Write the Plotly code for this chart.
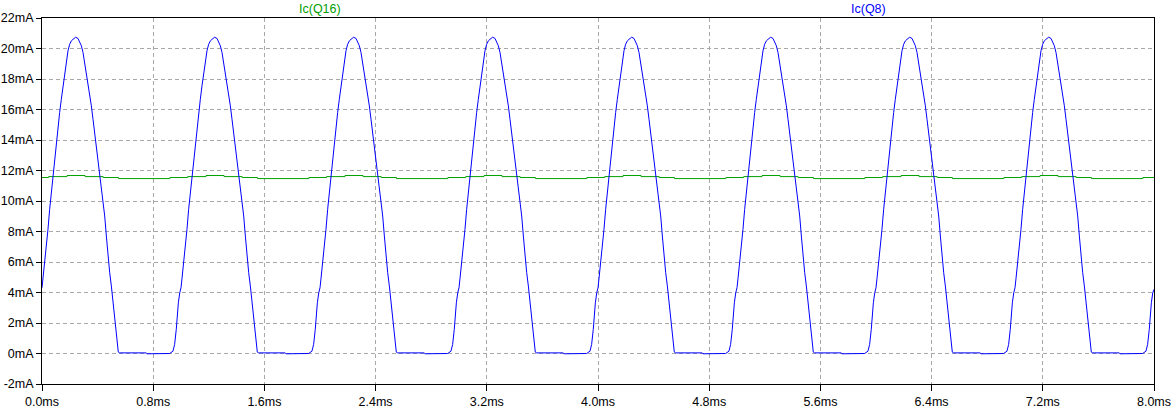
import plotly.graph_objects as go

# ---- data ----
# one measured cycle of Ic(Q8), time in ms within the cycle, current in mA
cycle_t_q8 = [0.000, 0.007, 0.019, 0.031, 0.043, 0.055, 0.067, 0.079, 0.091, 0.103,
              0.115, 0.127, 0.139, 0.151, 0.163, 0.175, 0.187, 0.199, 0.211, 0.223,
              0.242, 0.259, 0.271, 0.283, 0.295, 0.307, 0.319, 0.331, 0.343, 0.355,
              0.367, 0.379, 0.391, 0.403, 0.415, 0.427, 0.439, 0.451, 0.463, 0.475,
              0.487, 0.499, 0.511, 0.523, 0.535, 0.542, 0.549, 0.559, 0.750, 0.755,
              0.918, 0.942, 0.954, 0.966, 0.974, 0.981, 0.991]
cycle_ic_q8 = [4.31, 4.90, 5.84, 7.05, 8.14, 9.45, 10.55, 11.64, 12.52, 13.83,
               14.70, 15.80, 16.67, 17.55, 18.42, 19.19, 19.85, 20.28, 20.50, 20.60,
               20.74, 20.66, 20.44, 20.18, 19.74, 19.08, 18.42, 17.77, 16.89, 16.24,
               15.36, 14.49, 13.61, 12.74, 11.86, 10.77, 9.89, 9.02, 7.70, 6.39,
               5.30, 4.42, 3.33, 2.45, 1.58, 0.59, 0.09, 0.04, 0.04, -0.02,
               0.00, 0.15, 0.59, 1.58, 2.67, 3.33, 3.98]

# one measured cycle of Ic(Q16) (step-wise as drawn)
cycle_t_q16 = [0.000, 0.048, 0.180, 0.310, 0.440, 0.550, 0.920]
cycle_ic_q16 = [11.54, 11.60, 11.67, 11.60, 11.54, 11.47, 11.54]

cycle_starts_ms = [0, 1, 2, 3, 4, 5, 6, 7]
end_t = 8.0
end_ic_q8 = 4.2
end_ic_q16 = 11.53

x_tick_vals = [0.0, 0.8, 1.6, 2.4, 3.2, 4.0, 4.8, 5.6, 6.4, 7.2, 8.0]
x_tick_text = ["0.0ms", "0.8ms", "1.6ms", "2.4ms", "3.2ms", "4.0ms",
               "4.8ms", "5.6ms", "6.4ms", "7.2ms", "8.0ms"]
y_tick_vals = [-2, 0, 2, 4, 6, 8, 10, 12, 14, 16, 18, 20, 22]
y_tick_text = ["-2mA", "0mA", "2mA", "4mA", "6mA", "8mA", "10mA", "12mA",
               "14mA", "16mA", "18mA", "20mA", "22mA"]

# ---- assemble the periodic series from the measured cycles ----
t_q8, i_q8, t_q16, i_q16 = [], [], [], []
for s in cycle_starts_ms:
    t_q8 += [s + v for v in cycle_t_q8]
    i_q8 += cycle_ic_q8
    t_q16 += [s + v for v in cycle_t_q16]
    i_q16 += cycle_ic_q16
t_q8.append(end_t); i_q8.append(end_ic_q8)
t_q16.append(end_t); i_q16.append(end_ic_q16)

BLUE = "#0000ff"
GREEN = "#00a000"
FONT = "Liberation Sans, Arial, sans-serif"

fig = go.Figure()
fig.add_trace(go.Scatter(x=t_q16, y=i_q16, mode="lines", line=dict(color=GREEN, width=1, shape="hv"),
                         name="Ic(Q16)", showlegend=False))
fig.add_trace(go.Scatter(x=t_q8, y=i_q8, mode="lines", line=dict(color=BLUE, width=1),
                         name="Ic(Q8)", showlegend=False))

axis_common = dict(showline=True, linecolor="black", linewidth=1, mirror=True,
                   showgrid=True, gridcolor="#a8a8a8", gridwidth=1, griddash="4px,3px",
                   zeroline=False, ticks="outside", tickcolor="black",
                   automargin=False, ticklabeloverflow="allow",
                   tickfont=dict(family=FONT, size=12.5, color="black"))

fig.update_xaxes(range=[0, 8], tickvals=x_tick_vals, ticktext=x_tick_text, ticklen=6, **axis_common)
fig.update_yaxes(range=[-2, 22], tickvals=y_tick_vals, ticktext=y_tick_text, ticklen=5, **axis_common)

fig.add_annotation(text="Ic(Q16)", xref="paper", yref="paper", x=(320 - 42) / 1112, y=1,
                   yshift=9, showarrow=False, yanchor="middle", xanchor="center",
                   font=dict(family=FONT, size=12.5, color=GREEN))
fig.add_annotation(text="Ic(Q8)", xref="paper", yref="paper", x=(868 - 42) / 1112, y=1,
                   yshift=9, showarrow=False, yanchor="middle", xanchor="center",
                   font=dict(family=FONT, size=12.5, color=BLUE))

fig.update_layout(width=1172, height=410, margin=dict(l=42, r=18, t=18, b=26),
                  paper_bgcolor="white", plot_bgcolor="white", showlegend=False)

fig.write_html("out.html", config={"displayModeBar": False},
               post_script="document.body.style.margin='0';document.body.style.overflow='hidden';")
